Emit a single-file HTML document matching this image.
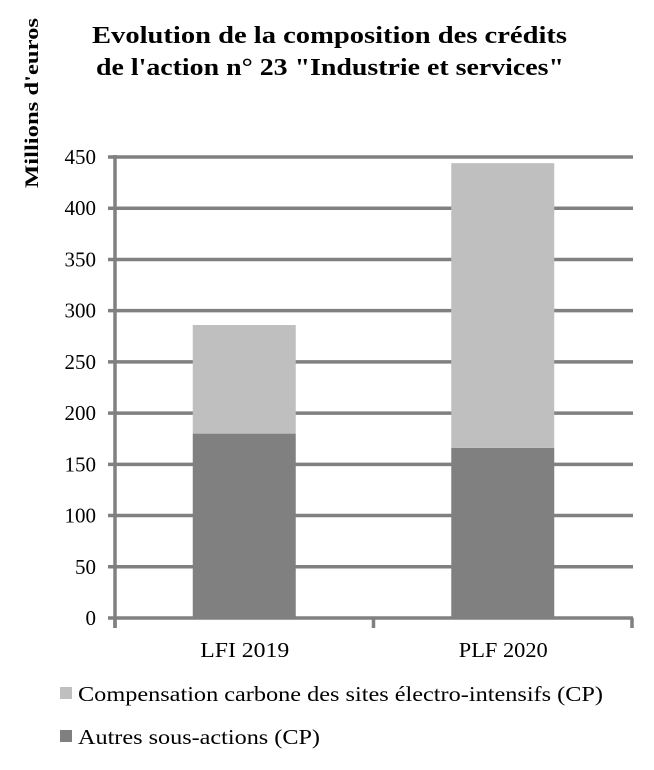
<!DOCTYPE html>
<html><head><meta charset="utf-8"><style>
body{margin:0;background:#fff;}
svg text{font-family:"Liberation Serif",serif;fill:#000;}
</style></head><body>
<svg width="654" height="765" xmlns="http://www.w3.org/2000/svg">
<g>
<text x="92" y="43" textLength="475" lengthAdjust="spacingAndGlyphs" font-size="24" font-weight="bold">Evolution de la composition des crédits</text>
<text x="96" y="75" textLength="468" lengthAdjust="spacingAndGlyphs" font-size="24" font-weight="bold">de l'action n° 23 "Industrie et services"</text>
</g>
<text transform="translate(38,188) rotate(-90)" textLength="170" lengthAdjust="spacingAndGlyphs" font-size="19" font-weight="bold">Millions d'euros</text>
<g id="grid"></g><g id="bars"></g><g id="axes"></g>
<g>
<g><rect x="60" y="687" width="12" height="12" fill="#bfbfbf"/><text x="78" y="701" textLength="525" lengthAdjust="spacingAndGlyphs" font-size="21">Compensation carbone des sites électro-intensifs (CP)</text></g>
<g><rect x="60" y="730" width="12" height="12" fill="#808080"/><text x="78" y="744" textLength="242" lengthAdjust="spacingAndGlyphs" font-size="21">Autres sous-actions (CP)</text></g>
</g>
</svg>
<script>
const categories=["LFI 2019","PLF 2020"];
const autres=[180,166];
const compensation=[106,278];
const yTicks=[0,50,100,150,200,250,300,350,400,450];
const ns="http://www.w3.org/2000/svg";
const x0=115,x1=632,y0=618,yTop=157,yMax=450;
const y=v=>y0-(v/yMax)*(y0-yTop);
const bandW=(x1-x0)/categories.length;
const barW=103;
function mk(tag,attrs,parent){const e=document.createElementNS(ns,tag);for(const k in attrs)e.setAttribute(k,attrs[k]);parent.appendChild(e);return e;}
const grid=document.getElementById('grid'),bars=document.getElementById('bars'),axes=document.getElementById('axes');
yTicks.forEach(t=>{
  if(t>0){const l=mk('line',{x1:x0-7,x2:x1+1,y1:y(t),y2:y(t),stroke:'#808080','stroke-width':3.5},grid);
  
  }
  const tx=mk('text',{x:96,y:y(t)+7,'text-anchor':'end','font-size':21},axes);tx.textContent=t;
  
  
});
categories.forEach((c,i)=>{
  const cx=x0+bandW*(i+0.5);
  const r1=mk('rect',{x:cx-barW/2,y:y(autres[i]),width:barW,height:y0-y(autres[i]),fill:'#808080'},bars);
  
  
  const tot=autres[i]+compensation[i];
  const r2=mk('rect',{x:cx-barW/2,y:y(tot),width:barW,height:y(autres[i])-y(tot),fill:'#bfbfbf'},bars);
  
  
  const tx=mk('text',{x:cx-44,y:657,textLength:89,lengthAdjust:'spacingAndGlyphs','font-size':21},axes);tx.textContent=c;
  
  
});
const ya=mk('line',{x1:x0,x2:x0,y1:yTop-2,y2:y0+10,stroke:'#808080','stroke-width':3.5},axes);


const xa=mk('line',{x1:x0-7,x2:x1+1,y1:y0,y2:y0,stroke:'#808080','stroke-width':3.5},axes);


for(let i=0;i<=categories.length;i++){const xx=x0+bandW*i;const tk=mk('line',{x1:xx,x2:xx,y1:y0,y2:y0+10,stroke:'#808080','stroke-width':3.5},axes);

}
</script>
</body></html>
